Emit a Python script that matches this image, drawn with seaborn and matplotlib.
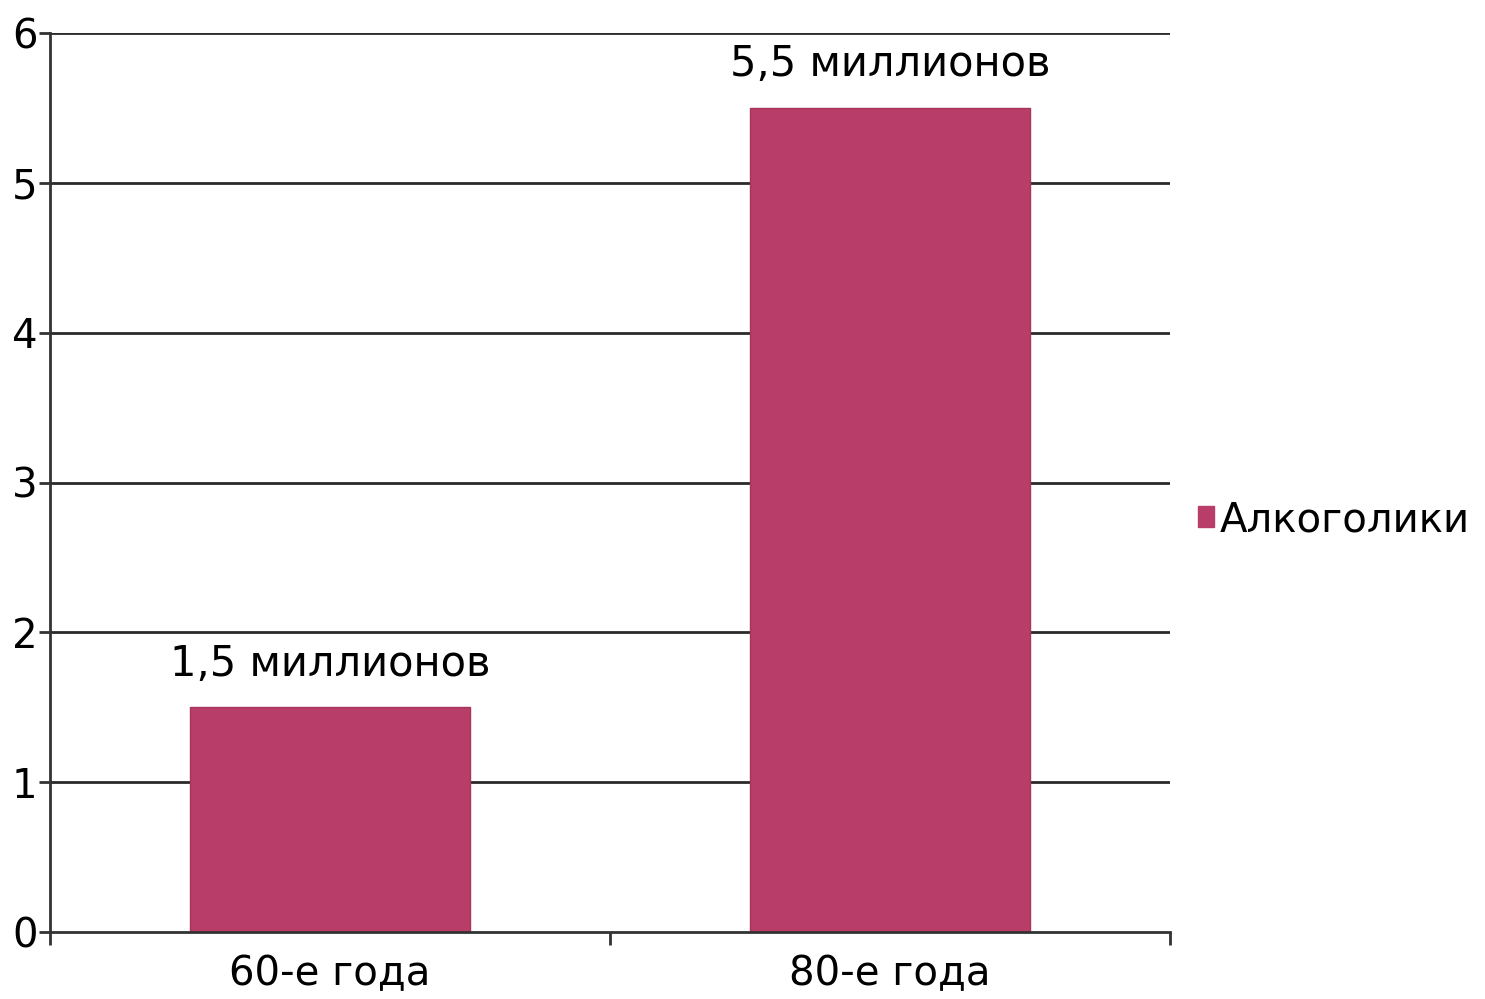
import matplotlib
matplotlib.use("Agg")
import matplotlib.pyplot as plt
import seaborn as sns
import pandas as pd
from matplotlib.patches import Patch

categories = ["60-е года", "80-е года"]
values = [1.5, 5.5]
value_labels = ["1,5 миллионов", "5,5 миллионов"]
series_name = "Алкоголики"
yticks = [0, 1, 2, 3, 4, 5, 6]

color = "#B83D68"

sns.set_theme(style="white")
plt.rcParams['font.family'] = ['DejaVu Sans']

df = pd.DataFrame({"cat": categories, "val": values})

fig = plt.figure(figsize=(14.85, 9.99), dpi=100)
ax = fig.add_axes([50/1485, 1-932/999, (1170-50)/1485, (932-33)/999])

sns.barplot(data=df, x="cat", y="val", color=color, width=0.5, ax=ax,
            edgecolor="#A8345C", linewidth=1, saturation=1)

ax.set_xlim(-0.5, 1.5)
ax.set_ylim(0, 6)
ax.set_yticks(yticks)
ax.set_yticklabels([str(t) for t in yticks])
ax.set_xlabel("")
ax.set_ylabel("")

for y in yticks[1:]:
    ax.axhline(y, color="#2a2a2a", lw=2, zorder=0)

for s in ["top", "right"]:
    ax.spines[s].set_visible(False)
for s in ["left", "bottom"]:
    ax.spines[s].set_color("#333333")
    ax.spines[s].set_linewidth(2)
    ax.spines[s].set_zorder(5)

ax.tick_params(axis="y", which="major", length=8, width=2, color="#333333",
               labelsize=29, pad=1, left=True, labelcolor="black")
ax.tick_params(axis="x", which="major", length=0, labelsize=29, pad=16,
               labelcolor="black")
ax.set_xticks([-0.5, 0.5, 1.5], minor=True)
ax.tick_params(axis="x", which="minor", length=9, width=2, color="#333333", bottom=True)

for i, (v, lab) in enumerate(zip(values, value_labels)):
    ax.text(i, v + 0.29, lab, ha="center", va="center", fontsize=30, color="black")

handle = Patch(facecolor=color, edgecolor=color, label=series_name)
fig.legend(handles=[handle], loc="center left", bbox_to_anchor=(1198/1485, 1-520/999),
           frameon=False, fontsize=29, handlelength=0.4, handleheight=0.4,
           handletextpad=0.15, borderpad=0, borderaxespad=0, labelcolor="black")

fig.savefig("out.png", dpi=100)
